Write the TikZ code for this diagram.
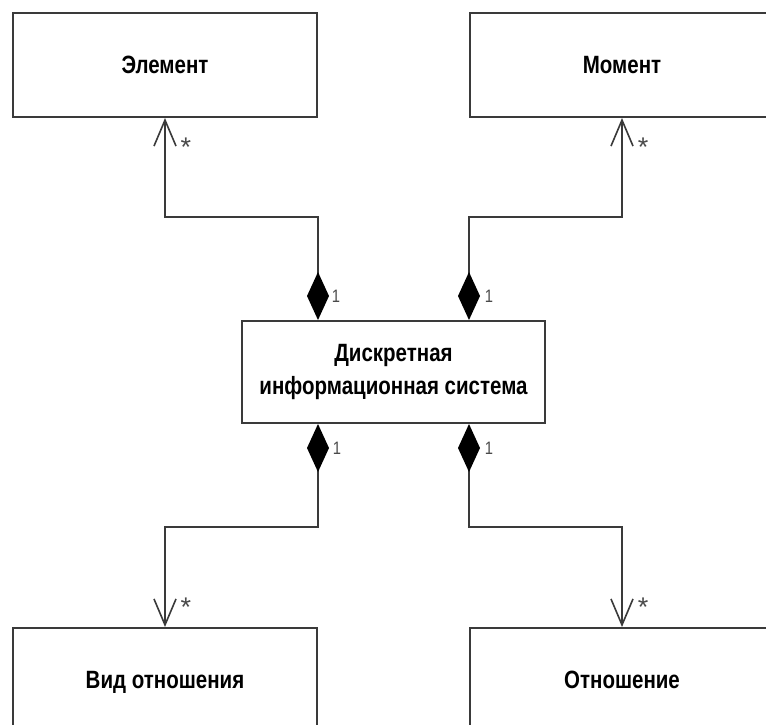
\documentclass[tikz,border=0pt]{standalone}
\usepackage{fontspec}
\setmainfont{Liberation Sans}
\newfontfamily\narrowfont{Liberation Sans}[FakeStretch=0.82]
\usetikzlibrary{arrows.meta}
\definecolor{linec}{HTML}{3A3A3A}
\definecolor{labc}{HTML}{4A4A4A}
\begin{document}
\begin{tikzpicture}[x=1pt,y=-1pt,
  box/.style={draw=linec, line width=2pt, fill=white, minimum width=304pt, minimum height=104pt,
    inner sep=0pt, align=center, font=\narrowfont\bfseries\fontsize{25}{33}\selectfont},
  comp/.style={draw=linec, line width=2pt,
    {Diamond[length=48pt,width=22pt,fill=black,color=black]}-{Straight Barb[length=26pt,width=22pt,line width=1.6pt]}},
  mult/.style={text=labc, inner sep=0pt, font=\narrowfont\fontsize{18}{18}\selectfont},
  star/.style={text=labc, inner sep=0pt, font=\fontsize{27}{27}\selectfont}]
\clip (0,0) rectangle (766,724);
\fill[white] (0,0) rectangle (766,724);
\node[box] (e) at (165,65) {Элемент};
\node[box] (m) at (622,65) {Момент};
\node[box, minimum width=303pt, minimum height=102pt] (d) at (393.5,372) {Дискретная\\информационная система};
\node[box] (v) at (165,680) {\raisebox{0pt}[\height][0pt]{Вид отношения}};
\node[box] (o) at (622,680) {Отношение};
\draw[comp] (d.north -| e.east) -- ++(0,-103) -| (e.south);
\draw[comp] (d.north -| m.west) -- ++(0,-103) -| (m.south);
\draw[comp] (d.south -| e.east) -- ++(0,103) -| (v.north);
\draw[comp] (d.south -| o.west) -- ++(0,103) -| (o.north);
\node[star] (s1) at (186,147) {*};
\node[star] (s2) at (643,147) {*};
\node[star] (s3) at (186,607) {*};
\node[star] (s4) at (643,607) {*};
\node[mult] (n1) at (336,296) {1};
\node[mult] (n2) at (489,296) {1};
\node[mult] (n3) at (337,448) {1};
\node[mult] (n4) at (489,448) {1};
\end{tikzpicture}
\end{document}
